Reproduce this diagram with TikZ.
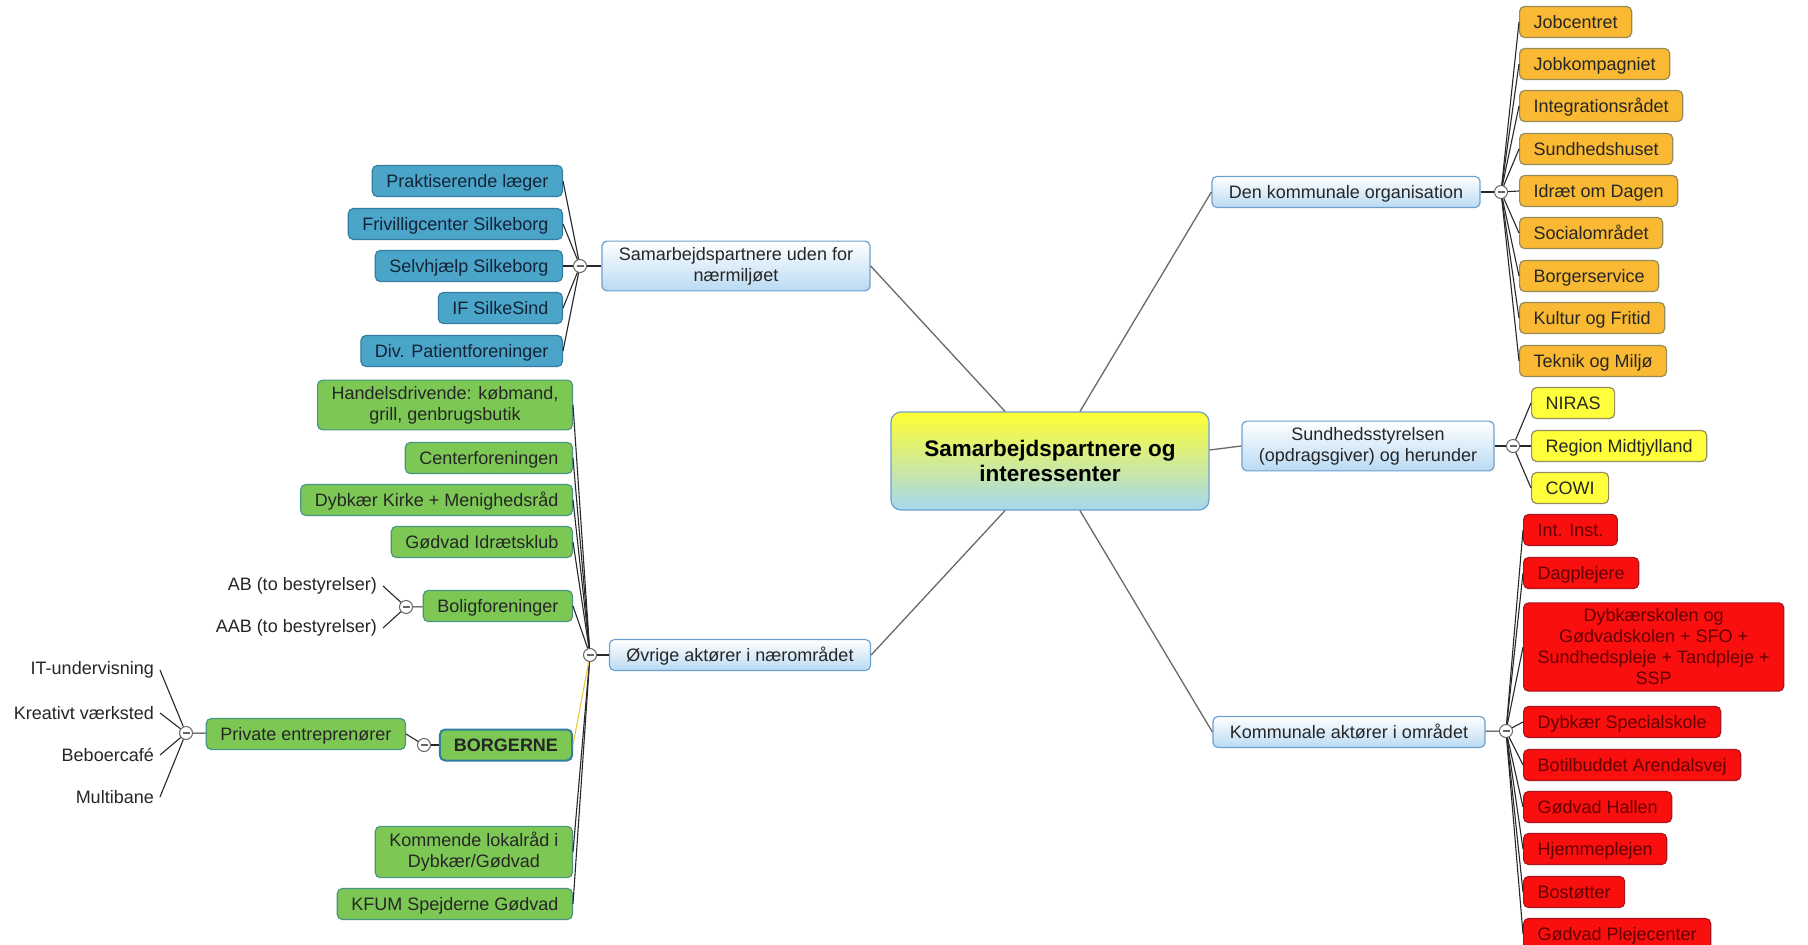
\documentclass[tikz,border=0pt]{standalone}
\usepackage{fontspec}
\setmainfont{Liberation Sans}
\usepackage{color}
\definecolor{orgfill}{RGB}{250,185,50}
\definecolor{orgline}{RGB}{150,140,90}
\definecolor{yelfill}{RGB}{255,255,60}
\definecolor{redfill}{RGB}{250,15,15}
\definecolor{redline}{RGB}{170,20,30}
\definecolor{redtext}{RGB}{100,0,0}
\definecolor{tealfill}{RGB}{75,165,200}
\definecolor{tealline}{RGB}{50,125,160}
\definecolor{tealtext}{RGB}{20,35,55}
\definecolor{grnfill}{RGB}{125,200,85}
\definecolor{grnline}{RGB}{70,150,130}
\definecolor{brline}{RGB}{110,160,205}
\definecolor{brfill}{RGB}{185,218,243}
\definecolor{rootyel}{RGB}{255,255,50}
\definecolor{rootblue}{RGB}{165,215,240}
\definecolor{linkgray}{RGB}{40,40,40}
\definecolor{spokegray}{RGB}{105,105,105}
\definecolor{borlink}{RGB}{240,200,60}

\begin{document}
\begin{tikzpicture}[x=1pt, y=-1pt, inner sep=.3ex,
    font=\fontsize{18}{21}\selectfont,
    box/.style={rounded corners=5pt, draw, line width=1.2pt, inner xsep=14pt,
      inner ysep=6pt, minimum height=31pt, align=center, text=black!85,
      text height=15pt, text depth=2pt},
    multi/.style={text height={}, text depth={}},
    branch/.style={box, inner xsep=17pt, draw=brline, top color=white, bottom color=brfill},
    orgbox/.style={box, draw=orgline, fill=orgfill, anchor=west},
    yelbox/.style={box, draw=orgline, fill=yelfill, anchor=west},
    redbox/.style={box, draw=redline, fill=redfill, text=redtext, anchor=west},
    tealbox/.style={box, draw=tealline, fill=tealfill, text=tealtext, anchor=east},
    grnbox/.style={box, draw=grnline, fill=grnfill, anchor=east},
    leaf/.style={inner xsep=6pt, anchor=east, text=black!85},
    hub/.style={circle, draw=black!60, fill=white, line width=1pt, minimum size=13pt, inner sep=0pt,
      path picture={\draw[line width=1.6pt] ([xshift=3pt]path picture bounding box.west)
        -- ([xshift=-3pt]path picture bounding box.east);}},
    link/.style={draw=linkgray, line width=1.1pt},
    spoke/.style={draw=spokegray, line width=1.3pt}]

  \fill[white] (0,0) rectangle (1808,945);
  \useasboundingbox (0,0) rectangle (1808,945);

  % centre
  \node (ROOT) [rounded corners=10pt, draw=brline, line width=1.2pt, top color=rootyel,
    bottom color=rootblue, minimum width=318pt, minimum height=98pt, align=center,
    font=\fontsize{22.5}{25}\selectfont\bfseries] at (1050,461)
    {Samarbejdspartnere og\\interessenter};

  % main branches
  \node (ORG) [branch] at (1346,192) {Den kommunale organisation};
  \node (SST) [branch, multi] at (1368,446) {Sundhedsstyrelsen\\(opdragsgiver) og herunder};
  \node (KOM) [branch] at (1349,732) {Kommunale aktører i området};
  \node (UDEN) [branch, multi] at (736,266) {Samarbejdspartnere uden for\\nærmiljøet};
  \node (OVR) [branch] at (740,655) {Øvrige aktører i nærområdet};

  \node (ORGh) [hub] at (1501,192) {};
  \node (SSTh) [hub] at (1513,446) {};
  \node (KOMh) [hub] at (1506,731) {};
  \node (UDENh) [hub] at (580,266) {};
  \node (OVRh) [hub] at (590,655) {};

  % Den kommunale organisation
  \node (O1) [orgbox] at (1519,22) {Jobcentret};
  \node (O2) [orgbox] at (1519,64) {Jobkompagniet};
  \node (O3) [orgbox] at (1519,106) {Integrationsrådet};
  \node (O4) [orgbox] at (1519,149) {Sundhedshuset};
  \node (O5) [orgbox] at (1519,191) {Idræt om Dagen};
  \node (O6) [orgbox] at (1519,233) {Socialområdet};
  \node (O7) [orgbox] at (1519,276) {Borgerservice};
  \node (O8) [orgbox] at (1519,318) {Kultur og Fritid};
  \node (O9) [orgbox] at (1519,361) {Teknik og Miljø};

  % Sundhedsstyrelsen
  \node (Y1) [yelbox] at (1531,403) {NIRAS};
  \node (Y2) [yelbox] at (1531,446) {Region Midtjylland};
  \node (Y3) [yelbox] at (1531,488) {COWI};

  % Kommunale aktører
  \node (R1) [redbox] at (1523,530) {Int. Inst.};
  \node (R2) [redbox] at (1523,573) {Dagplejere};
  \node (R3) [redbox, multi] at (1523,647) {Dybkærskolen og\\Gødvadskolen + SFO +\\Sundhedspleje + Tandpleje +\\SSP};
  \node (R4) [redbox] at (1523,722) {Dybkær Specialskole};
  \node (R5) [redbox] at (1523,765) {Botilbuddet Arendalsvej};
  \node (R6) [redbox] at (1523,807) {Gødvad Hallen};
  \node (R7) [redbox] at (1523,849) {Hjemmeplejen};
  \node (R8) [redbox] at (1523,892) {Bostøtter};
  \node (R9) [redbox] at (1523,934) {Gødvad Plejecenter};

  % uden for nærmiljøet
  \node (B1) [tealbox] at (563,181) {Praktiserende læger};
  \node (B2) [tealbox] at (563,224) {Frivilligcenter Silkeborg};
  \node (B3) [tealbox] at (563,266) {Selvhjælp Silkeborg};
  \node (B4) [tealbox] at (563,308) {IF SilkeSind};
  \node (B5) [tealbox] at (563,351) {Div. Patientforeninger};

  % nærområdet
  \node (G1) [grnbox, multi] at (573,405) {Handelsdrivende: købmand,\\grill, genbrugsbutik};
  \node (G2) [grnbox] at (573,458) {Centerforeningen};
  \node (G3) [grnbox] at (573,500) {Dybkær Kirke + Menighedsråd};
  \node (G4) [grnbox] at (573,542) {Gødvad Idrætsklub};
  \node (G5) [grnbox] at (573,606) {Boligforeninger};
  \node (G6) [grnbox, multi] at (573,852) {Kommende lokalråd i\\Dybkær/Gødvad};
  \node (G7) [grnbox] at (573,904) {KFUM Spejderne Gødvad};
  \node (BOR) [grnbox, draw=tealline, line width=2pt, font=\fontsize{18}{21}\selectfont\bfseries]
    at (573,745) {BORGERNE};
  \node (PRI) [grnbox] at (406,734) {Private entreprenører};

  \node (BOLh) [hub] at (406,607) {};
  \node (BORh) [hub] at (424,745) {};
  \node (PRIh) [hub] at (186,733) {};

  \node (AB) [leaf] at (383,586) {AB (to bestyrelser)};
  \node (AAB) [leaf] at (383,628) {AAB (to bestyrelser)};
  \node (P1) [leaf] at (160,670) {IT-undervisning};
  \node (P2) [leaf] at (160,713) {Kreativt værksted};
  \node (P3) [leaf] at (160,755) {Beboercafé};
  \node (P4) [leaf] at (160,797) {Multibane};

  % centre to branches
  \draw[spoke] ([xshift=30pt]ROOT.north) -- (ORG.west);
  \draw[spoke] ([yshift=11pt]ROOT.east) -- (SST.west);
  \draw[spoke] ([xshift=30pt]ROOT.south) -- (KOM.west);
  \draw[spoke] ([xshift=-45pt]ROOT.north) -- (UDEN.east);
  \draw[spoke] ([xshift=-45pt]ROOT.south) -- (OVR.east);

  % branches to hubs
  \draw[link] (ORG) -- (ORGh);
  \draw[link] (SST) -- (SSTh);
  \draw[link] (KOM) -- (KOMh);
  \draw[link] (UDEN) -- (UDENh);
  \draw[link] (OVR) -- (OVRh);
  \draw[link] (G5) -- (BOLh);
  \draw[link] (BOR) -- (BORh);
  \draw[link] (PRI.east) -- (BORh);
  \draw[link] (PRI) -- (PRIh);

  % hubs to children
  \foreach \i in {1,...,9} \draw[link] (ORGh) -- (O\i.west);
  \foreach \i in {1,...,3} \draw[link] (SSTh) -- (Y\i.west);
  \foreach \i in {1,...,9} \draw[link] (KOMh) -- (R\i.west);
  \foreach \i in {1,...,5} \draw[link] (UDENh) -- (B\i.east);
  \foreach \i in {1,...,7} \draw[link] (OVRh) -- (G\i.east);
  \draw[link, draw=borlink] (OVRh) -- (BOR.east);
  \draw[link] (BOLh) -- (AB.east);
  \draw[link] (BOLh) -- (AAB.east);
  \foreach \i in {1,...,4} \draw[link] (PRIh) -- (P\i.east);
\end{tikzpicture}
\end{document}
